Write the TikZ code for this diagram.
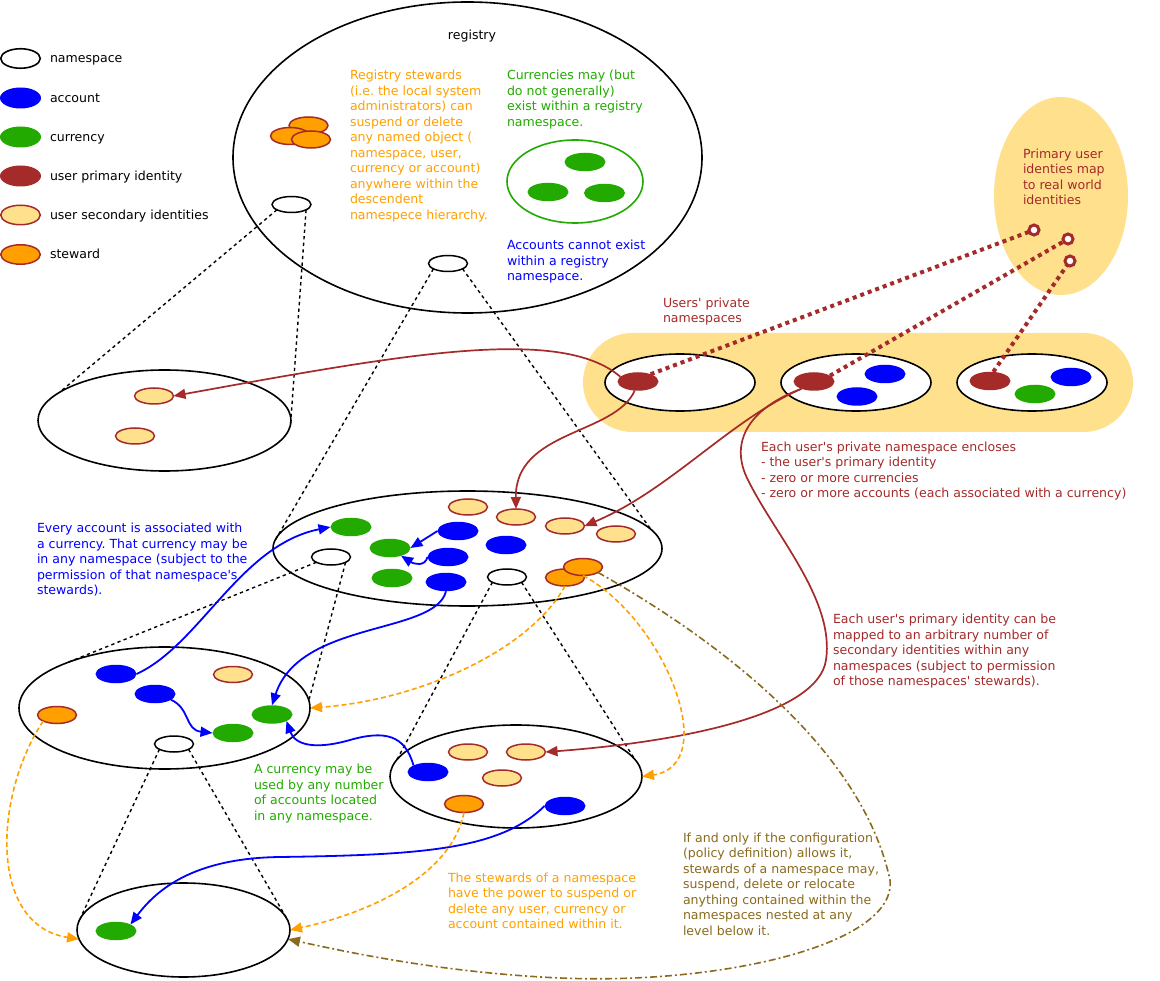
\documentclass[tikz,border=0pt]{standalone}
\usepackage{fontspec}
\setmainfont{DejaVu Sans}
\usetikzlibrary{shapes.geometric,arrows.meta}

\definecolor{idbrown}{HTML}{A52A2A}
\definecolor{curgreen}{HTML}{22AA00}
\definecolor{accblue}{HTML}{0000FF}
\definecolor{stworange}{HTML}{FFA000}
\definecolor{paleyellow}{HTML}{FFE08C}
\definecolor{delegcol}{HTML}{8A6A1E}
\newcommand{\sq}{\textquotesingle}

\begin{document}
\frenchspacing
\begin{tikzpicture}[x=1pt,y=-1pt,
  every node/.style={inner sep=0pt, outer sep=0pt},
  nsp/.style={ellipse, draw=black, line width=1.6pt, fill=white},
  obj/.style={ellipse, minimum width=41pt, minimum height=18.5pt},
  acct/.style={obj, fill=accblue},
  curr/.style={obj, fill=curgreen},
  prim/.style={obj, fill=idbrown},
  secid/.style={obj, fill=paleyellow, draw=idbrown, line width=1.5pt, minimum width=39pt, minimum height=16pt},
  stw/.style={obj, fill=stworange, draw=idbrown, line width=1.5pt, minimum width=39pt, minimum height=17pt},
  hole/.style={ellipse, draw=black, line width=1.5pt, fill=white, minimum width=39pt, minimum height=16pt},
  keysize/.style={minimum width=41pt, minimum height=21pt},
  keysizeb/.style={minimum width=39.5pt, minimum height=19.5pt},
  % notes are placed by the baseline of their last line
  note/.style={anchor=base west, align=left, font=\fontsize{12.55}{15.5}\selectfont},
  nest/.style={draw=black, line width=1.4pt, dash pattern=on 3.3pt off 3.3pt},
  tip/.style={-{Triangle[length=12pt,width=10pt]}},
  idlink/.style={draw=idbrown, line width=1.7pt, tip},
  acclink/.style={draw=accblue, line width=1.8pt, tip},
  stwlink/.style={draw=stworange, line width=1.6pt, dash pattern=on 5pt off 3pt, tip},
  deleg/.style={draw=delegcol, line width=1.6pt, dash pattern=on 7pt off 3pt on 2pt off 3pt, tip},
  realid/.style={draw=idbrown, line width=4pt, dash pattern=on 4pt off 4pt},
  ring/.style={circle, draw=idbrown, line width=3pt, fill=white, minimum size=10pt},
]
\useasboundingbox (0,0) rectangle (1160,981);

% ---- pale backgrounds: private namespace band and real world identities
\node[fill=paleyellow, rounded corners=49.5pt, minimum width=550pt, minimum height=99pt] (band) at (858,382.5) {};
\node[ellipse, fill=paleyellow, minimum width=134pt, minimum height=198pt] (world) at (1061,196) {};

% ---- namespaces
\node[nsp, minimum width=469pt, minimum height=311pt] (reg) at (467.5,157.5) {};
\node[nsp, minimum width=253pt, minimum height=101pt] (nsA) at (164.5,420.5) {};
\node[nsp, minimum width=389pt, minimum height=115pt] (nsB) at (467.5,548.5) {};
\node[nsp, minimum width=291pt, minimum height=122pt] (nsC) at (164.5,708) {};
\node[nsp, minimum width=252pt, minimum height=103pt] (nsD) at (516,776.5) {};
\node[nsp, minimum width=213pt, minimum height=94pt] (nsE) at (183.5,930) {};
\node[nsp, minimum width=150pt, minimum height=57pt] (pv1) at (680,382.5) {};
\node[nsp, minimum width=150pt, minimum height=57pt] (pv2) at (856,382.5) {};
\node[nsp, minimum width=150pt, minimum height=57pt] (pv3) at (1032,382.5) {};

% ---- legend
\node[nsp, keysizeb] (keyNs) at (20.5,58.5) {};
\node[acct, keysize] (keyAcct) at (20.5,98) {};
\node[curr, keysize] (keyCurr) at (20.5,137) {};
\node[prim, keysize] (keyPrim) at (20.5,176) {};
\node[secid, keysizeb] (keySec) at (20.5,215) {};
\node[stw, keysizeb] (keyStw) at (20.5,254.5) {};
\node[note] (keyNsT) at (50,63) {namespace};
\node[note] (keyAcctT) at (50,102.5) {account};
\node[note] (keyCurrT) at (50,141.5) {currency};
\node[note] (keyPrimT) at (50,180.5) {user primary identity};
\node[note] (keySecT) at (50,219.5) {user secondary identities};
\node[note] (keyStwT) at (50,259) {steward};

% ---- registry contents
\node[stw] (rW1) at (308.5,125.5) {};
\node[stw] (rW2) at (290,136) {};
\node[stw] (rW3) at (311,139.5) {};
\node[ellipse, draw=curgreen, line width=1.6pt, minimum width=136pt, minimum height=83pt] (regCur) at (575,181.5) {};
\node[curr] (rC1) at (585,162) {};
\node[curr] (rC2) at (548,192) {};
\node[curr] (rC3) at (604.5,193) {};
\node[hole] (hA) at (291.5,204.5) {};
\node[hole] (hB) at (448,263.5) {};

% ---- namespace A
\node[secid] (aS1) at (154,396) {};
\node[secid] (aS2) at (135,436) {};

% ---- namespace B
\node[hole] (hC) at (331,557) {};
\node[hole] (hD) at (507,577) {};
\node[secid] (bS1) at (468,507) {};
\node[secid] (bS2) at (516,517) {};
\node[secid] (bS3) at (565,526) {};
\node[secid] (bS4) at (616,534) {};
\node[curr] (bC1) at (351,527) {};
\node[curr] (bC2) at (390,548) {};
\node[curr] (bC3) at (392,578) {};
\node[acct] (bA1) at (458,531) {};
\node[acct] (bA2) at (448,557) {};
\node[acct] (bA3) at (506,545) {};
\node[acct] (bA4) at (446,582) {};
\node[stw] (bW1) at (565,577.5) {};
\node[stw] (bW2) at (583,567) {};

% ---- namespace C
\node[hole] (hE) at (174,744) {};
\node[acct] (cA1) at (116,674) {};
\node[acct] (cA2) at (155,694) {};
\node[secid] (cS1) at (233,674.5) {};
\node[stw] (cW1) at (57,715) {};
\node[curr] (cC1) at (272,714.5) {};
\node[curr] (cC2) at (233,733) {};

% ---- namespace D
\node[secid] (dS1) at (468,752) {};
\node[secid] (dS2) at (526,752) {};
\node[secid] (dS3) at (502,778) {};
\node[stw] (dW1) at (464,804) {};
\node[acct] (dA1) at (428,772) {};
\node[acct] (dA2) at (565,806) {};

% ---- namespace E
\node[curr] (eC1) at (116,931) {};

% ---- private namespaces
\node[prim] (p1) at (638,381.5) {};
\node[prim] (p2) at (814,381.5) {};
\node[acct] (v2A1) at (885,374) {};
\node[acct] (v2A2) at (857,396.5) {};
\node[prim] (p3) at (990,381) {};
\node[acct] (v3A1) at (1071,377) {};
\node[curr] (v3C1) at (1035,394) {};

% ---- texts
\node[note, anchor=base] (regName) at (472,40) {registry};
\node[note, text=stworange] (regStwT) at (350,219.5) {Registry stewards\\(i.e. the local system\\administrators) can\\suspend or delete\\any named object (\\namespace, user,\\currency or account)\\anywhere within the\\descendent\\namespece hierarchy.};
\node[note, text=curgreen] (regCurT) at (507,126.5) {Currencies may (but\\do not generally)\\exist within a registry\\namespace.};
\node[note, text=accblue] (regAccT) at (507,281) {Accounts cannot exist\\within a registry\\namespace.};
\node[note, text=idbrown] (privT) at (663,323) {Users\sq{} private\\namespaces};
\node[note, text=idbrown] (worldT) at (1023,205) {Primary user\\identies map\\to real world\\identities};
\node[note, text=idbrown] (enclT) at (761,497.5) {Each user\sq s private namespace encloses\\- the user\sq s primary identity\\- zero or more currencies\\- zero or more accounts (each associated with a currency)};
\node[note, text=idbrown] (mapT) at (833,685.5) {Each user\sq s primary identity can be\\mapped to an arbitrary number of\\secondary identities within any\\namespaces (subject to permission\\of those namespaces\sq{} stewards).};
\node[note, text=accblue] (accT) at (37,594.5) {Every account is associated with\\a currency. That currency may be\\in any namespace (subject to the\\permission of that namespace\sq s\\stewards).};
\node[note, text=curgreen] (curT) at (254,820) {A currency may be\\used by any number\\of accounts located\\in any namespace.};
\node[note, text=stworange] (stwT) at (448,928.5) {The stewards of a namespace\\have the power to suspend or\\delete any user, currency or\\account contained within it.};
\node[note, text=delegcol] (delegT) at (683,935) {If and only if the configuration\\(policy definition) allows it,\\stewards of a namespace may,\\suspend, delete or relocate\\anything contained within the\\namespaces nested at any\\level below it.};

% ---- nesting of namespaces
\draw[nest] (hA.200) -- (nsA.165);
\draw[nest] (hA.-20) -- (nsA.-2);
\draw[nest] (hB.200) -- (nsB.178);
\draw[nest] (hB.-20) -- (nsB.6.5);
\draw[nest] (hC.200) -- (nsC.155);
\draw[nest] (hC.-20) -- (nsC.3);
\draw[nest] (hD.200) -- (nsD.172);
\draw[nest] (hD.-20) -- (nsD.8);
\draw[nest] (hE.200) -- (nsE.174);
\draw[nest] (hE.-20) -- (nsE.6);

% ---- primary identity to secondary identities
\draw[idlink] (p1.165) .. controls (560,325) and (400,355) .. (aS1.east);
\draw[idlink] (p1.250) .. controls (615,435) and (515,430) .. (bS2.north);
\draw[idlink] (p2.210) .. controls (730,420) and (670,490) .. (bS3.east);
\draw[idlink] (p2.210) .. controls (745,410) and (730,445) .. (748,480)
  .. controls (775,535) and (835,600) .. (826,660)
  .. controls (818,715) and (680,742) .. (dS2.east);

% ---- accounts to their currencies
\draw[acclink] (bA1.west) -- (bC2.east);
\draw[acclink] (bA2.west) .. controls (425,567) and (414,564) .. (bC2.-35);
\draw[acclink] (cA1.east) .. controls (200,645) and (240,545) .. (bC1.west);
\draw[acclink] (bA4.south) .. controls (435,635) and (300,620) .. (cC1.north);
\draw[acclink] (cA2.-20) .. controls (190,708) and (185,730) .. (cC2.west);
\draw[acclink] (dA1.north west) .. controls (405,735) and (385,730) .. (350,740)
  .. controls (315,750) and (295,745) .. (cC1.south east);
\draw[acclink] (dA2.west) .. controls (500,850) and (420,855) .. (280,857)
  .. controls (200,858) and (160,885) .. (eC1.north east);

% ---- stewards over their namespaces
\draw[stwlink] (bW1.south) .. controls (530,650) and (420,700) .. (nsC.east);
\draw[stwlink] (bW2.south) .. controls (665,620) and (722,765) .. (nsD.east);
\draw[stwlink] (cW1.south west) .. controls (-6,795) and (-12,925) .. (nsE.185);
\draw[stwlink] (dW1.south) .. controls (450,880) and (360,915) .. (nsE.east);
\draw[deleg] (bW2.-20) .. controls (700,630) and (860,740) .. (890,880)
  .. controls (897,945) and (720,985) .. (560,978)
  .. controls (450,973) and (360,955) .. (nsE.-5);

% ---- primary identities to real world identities
\node[ring] (r1) at (1034,230) {};
\node[ring] (r2) at (1068,239) {};
\node[ring] (r3) at (1070,261) {};
\draw[realid] (p1.30) -- (r1);
\draw[realid] (p2.20) -- (r2);
\draw[realid] (p3.70) -- (r3);
\end{tikzpicture}
\end{document}
